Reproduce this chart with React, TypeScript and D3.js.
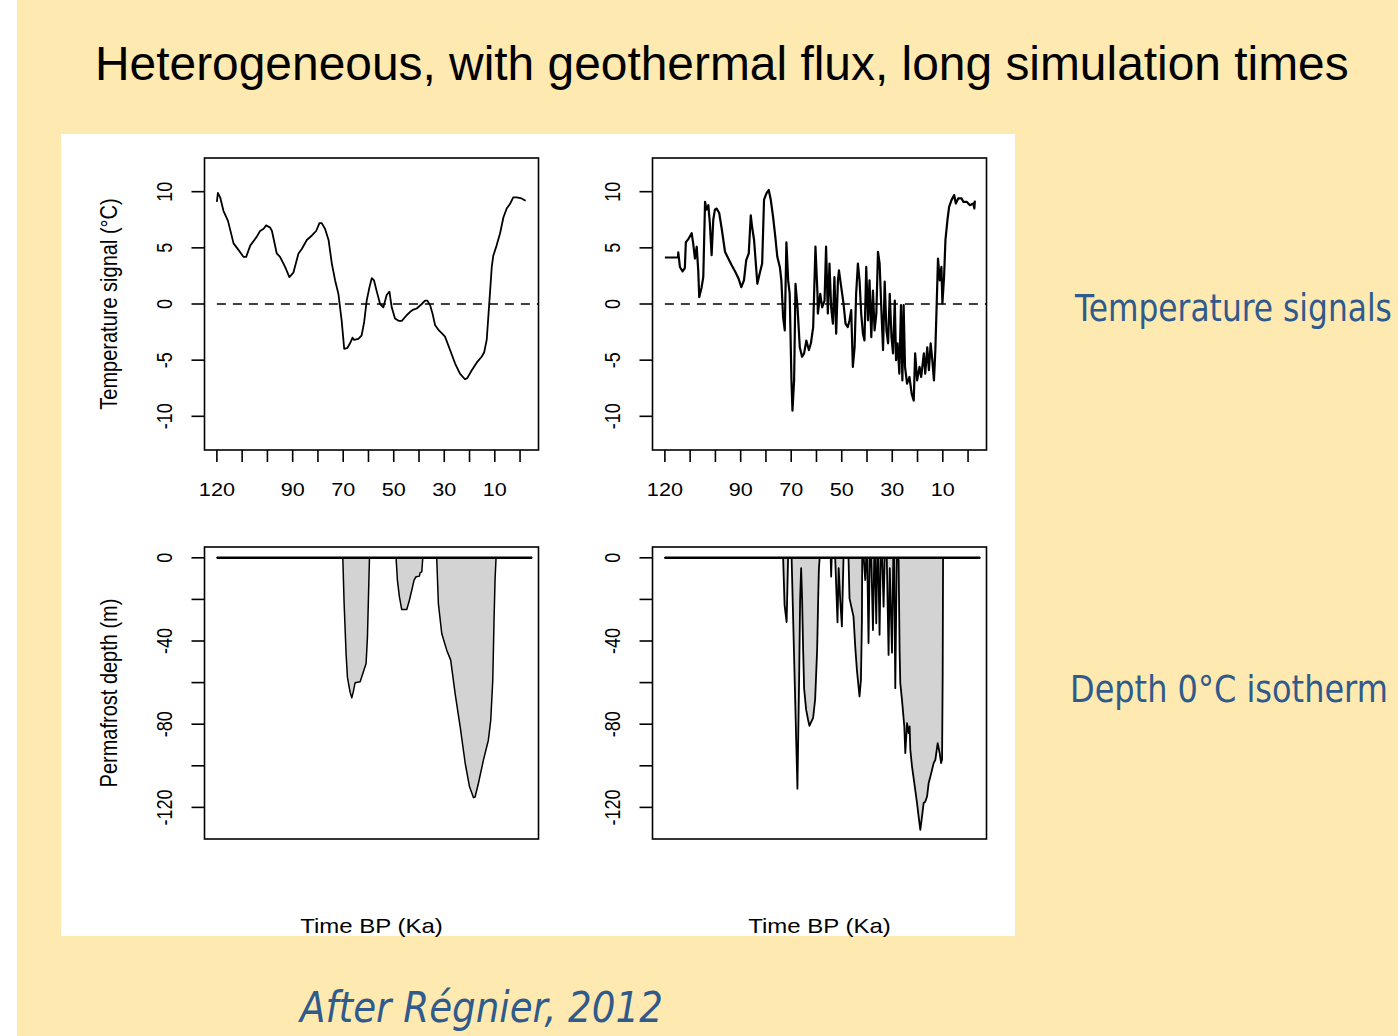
import { useEffect, useRef } from 'react';
import * as d3 from 'd3';

const WIDTH = 1398;
const HEIGHT = 1036;

// axes
const ageTicks = [120, 110, 100, 90, 80, 70, 60, 50, 40, 30, 20, 10, 0];
const ageTickLabels = [120, 90, 70, 50, 30, 10];
const tempTicks = [-10, -5, 0, 5, 10];
const depthTicks = [0, -20, -40, -60, -80, -100, -120];
const depthTickLabels = [0, -40, -80, -120];

// top-left: smoothed temperature signal (°C)
const smoothAge = [
	120, 119.6, 118.7, 117.4, 115.6, 113.4, 111.4, 109.5, 108.4, 106.8, 104.2, 102.9, 101.5, 100.5, 98.9, 98.2,
	96.3, 95.0, 93.0, 91.3, 89.7, 87.7, 86.4, 84.4, 82.4, 80.7, 79.4, 78.5, 77.2, 75.8, 74.5, 73.2, 71.9, 70.6,
	69.6, 68.3, 67.3, 66.3, 65.7, 64.0, 62.7, 61.7, 60.7, 59.6, 58.7, 57.8, 56.7, 55.4, 54.1, 52.8, 51.7, 50.8,
	49.5, 48.1, 46.8, 44.9, 43.5, 42.2, 40.9, 38.9, 37.6, 36.7, 35.6, 34.6, 33.6, 32.3, 31.0, 29.7, 27.7, 25.7,
	23.8, 21.8, 20.9, 19.1, 17.1, 15.2, 14.2, 13.2, 12.3, 11.2, 10.6, 9.3, 7.9, 6.6, 5.3, 4.0, 2.7, 1.3, -0.6, -2.2,
];
const smoothTemp = [
	9.1, 9.9, 9.5, 8.3, 7.4, 5.4, 4.8, 4.2, 4.2, 5.2, 6.0, 6.5, 6.7, 7.0, 6.8, 6.5,
	4.5, 4.2, 3.3, 2.4, 2.8, 4.5, 4.9, 5.7, 6.1, 6.5, 7.2, 7.2, 6.7, 5.7, 3.6, 2.1, 0.9, -1.5,
	-4.0, -3.9, -3.5, -3.0, -3.2, -3.1, -2.8, -1.6, 0.3, 1.5, 2.3, 2.1, 1.1, 0.0, -0.3, 0.8, 1.1, -0.3,
	-1.3, -1.5, -1.5, -1.0, -0.7, -0.5, -0.4, 0.0, 0.3, 0.3, -0.1, -0.9, -1.9, -2.3, -2.6, -2.9, -4.1, -5.3,
	-6.2, -6.7, -6.6, -5.9, -5.2, -4.7, -4.3, -3.2, -0.3, 3.3, 4.3, 5.2, 6.3, 7.7, 8.5, 8.9, 9.5, 9.5, 9.4, 9.2,
];

// top-right: raw temperature signal (°C)
const rawAge = [
	120, 114.8, 114.7, 114.05, 113.0, 112.1, 111.7, 110.8, 109.4, 108.8, 108.1, 107.4, 106.8, 106.4, 105.45, 104.8,
	104.1, 103.5, 102.8, 102.2, 101.5, 100.85, 100.2, 99.5, 98.5, 97.5, 96.2, 94.9, 93.55, 92.2, 90.9, 89.75, 88.7,
	87.8, 86.8, 86.0, 85.5, 84.7, 84.2, 83.4, 82.5, 81.5, 80.75, 79.8, 78.9, 78.1, 77.2, 76.3, 75.5, 74.5, 73.9,
	73.2, 72.55, 71.9, 71.2, 70.6, 69.9, 69.5, 68.85, 68.3, 67.5, 66.6, 65.7, 64.9, 64.0, 63.0, 62.2, 61.3, 60.4,
	59.6, 59.45, 58.5, 57.75, 56.8, 56.2, 55.5, 54.85, 54.2, 53.5, 52.9, 52.2, 51.5, 51.1, 50.2, 49.3, 48.5, 47.6,
	46.9, 46.25, 45.6, 44.9, 44.3, 43.6, 42.95, 42.3, 41.6, 41.0, 40.3, 39.6, 39.0, 38.3, 37.65, 37.0, 36.3, 35.65,
	35.0, 34.35, 33.65, 33.0, 32.3, 31.65, 31.0, 30.3, 29.7, 29.0, 28.5, 27.9, 27.2, 26.55, 26.0, 25.5, 24.95,
	24.15, 23.2, 22.3, 21.5, 20.95, 20.15, 19.2, 18.55, 17.5, 16.95, 16.15, 15.5, 14.8, 14.15, 13.5, 12.95, 12.45,
	11.9, 11.2, 10.55, 10.15, 9.5, 8.95, 8.15, 7.5, 6.55, 5.5, 4.85, 3.9, 2.55, 1.9, 0.55, -0.75, -2.1, -2.5, -2.7,
];
const rawTemp = [
	4.14, 4.14, 4.6, 3.3, 2.9, 3.2, 5.5, 5.75, 6.3, 5.4, 4.05, 5.1, 3.0, 0.6, 1.5, 2.4,
	9.1, 8.4, 8.8, 7.2, 4.35, 7.5, 8.4, 8.5, 8.1, 6.7, 4.65, 4.05, 3.45, 2.9, 2.3, 1.5, 2.1,
	3.9, 4.5, 7.9, 6.9, 5.7, 4.2, 1.8, 2.7, 3.6, 9.3, 9.85, 10.15, 9.3, 7.8, 6.0, 4.2, 3.3, 2.1,
	-1.2, -2.35, 5.5, 2.1, 0.9, -6.8, -9.5, -6.8, 1.8, -0.3, -3.85, -4.7, -4.4, -3.25, -4.1, -3.5, -2.05, 5.1,
	0.9, -0.85, 0.9, -0.3, 0.3, 5.1, -0.85, 3.6, -0.3, -1.75, 2.4, -2.65, 2.1, 3.0, 1.5, 0.05, -1.75, -2.05,
	-1.45, -0.55, -5.6, -3.85, 0.9, 3.6, 2.1, -0.85, -2.65, -3.25, 3.3, -1.45, 2.1, -2.95, 1.2, -2.35, -0.85, 4.65,
	3.6, -0.3, -4.1, 2.0, -2.35, -3.5, 0.9, -2.95, -4.4, 0.3, -5.0, -3.5, -6.2, -0.1, -6.8, -0.1, -5.6,
	-7.1, -6.5, -8.0, -8.6, -4.4, -6.8, -5.6, -6.5, -4.4, -6.2, -3.85, -5.9, -3.5, -5.0, -6.8, -4.1, -0.3,
	4.05, 2.1, 3.3, 0.05, 2.4, 5.7, 7.5, 8.65, 9.25, 9.7, 8.95, 9.4, 9.4, 9.1, 9.1, 8.8, 8.95, 8.5, 9.2,
];

// bottom-left: permafrost depth (m), smoothed signal
const smoothDepthAge = [
	120, 70.16, 69.64, 68.85, 68.32, 67.26, 66.6, 65.95, 65.3, 63.3, 62.65, 62.0, 60.94, 60.4, 60.0, 59.6,
	49.07, 48.55, 47.75, 46.83, 44.85, 43.8, 42.87, 41.95, 41.16, 39.84, 39.58, 38.9, 38.66, 38.5,
	32.99, 32.33, 31.0, 29.03, 27.45, 25.7, 23.7, 21.7, 20.0, 18.45, 17.8, 16.5, 14.5, 12.55, 11.6, 10.8, 10.3,
	9.9, 9.5, -4.7,
];
const smoothDepth = [
	0, 0, -22, -46.3, -57.5, -64.7, -67.3, -64.1, -60.1, -59.6, -57.2, -54.8, -50.8, -38.0, -18.8, 0,
	0, -10.7, -18.8, -24.9, -24.9, -20.4, -15.6, -10.7, -9.1, -8.8, -7.2, -6.7, -2.7, 0,
	0, -22.0, -36.4, -44.4, -49.2, -65.3, -81.3, -98.9, -110.1, -115.3, -115.0, -108.5, -97.3, -87.7, -78.1, -58.8, -30.0,
	-10.7, 0, 0,
];

// bottom-right: permafrost depth (m), raw signal
const rawDepthAge = [
	120, 73.2, 72.62, 71.82, 71.43, 71.23, 69.84, 67.54, 66.87, 66.47, 66.07, 65.68, 65.28, 64.88, 64.09, 63.3,
	62.78, 62.11, 61.32, 60.52, 59.73, 59.33, 59.06, 58.74, 54.38, 54.18, 53.98, 52.59, 51.68, 51.21, 50.61, 49.94,
	49.3, 47.32, 46.92, 45.34, 44.66, 43.99, 42.96, 42.4, 42.01, 41.89, 41.29, 40.7, 40.3, 39.9, 39.4, 38.9, 38.3,
	37.65, 37.13, 36.81, 36.34, 35.94, 35.54, 35.03, 34.55, 33.96, 33.44, 32.97, 32.17, 31.46, 30.98, 30.11, 29.6,
	29.28, 28.8, 28.21, 27.81, 27.49, 27.1, 26.82, 26.15, 25.23, 24.84, 24.16, 23.53, 23.13, 22.85, 22.18, 21.27,
	20.2, 19.56, 18.89, 18.22, 17.58, 16.91, 16.23, 15.6, 14.92, 14.25, 13.62, 12.94, 12.03, 11.24, 10.68, 10.29,
	10.05, 9.89, -4.7,
];
const rawDepth = [
	0, 0, -22.7, -30.9, -10.7, 0, 0, -111, -58.9, -20, -5, -20, -44, -63, -73, -78,
	-80.8, -79, -77, -68, -44, -20, -6, 0, 0, -9, 0, 0, -31, -5, -20, -33,
	0, 0, -19.5, -28.3, -42.7, -54, -66.7, -58.7, -30, 0, 0, -10.7, 0, 0, -41, 0, 0,
	-34.7, 0, 0, -31.5, 0, 0, -37, 0, 0, -23.5, 0, 0, -46.7, -5, -45.6, 0,
	0, -62.7, 0, 0, -1.1, -44.3, -60.3, -68.3, -81.1, -93.9, -79.5, -84.3, -81.1, -92.3, -100.4, -108.3,
	-117.9, -124.4, -130.8, -124.4, -117.9, -117.2, -114.8, -108.3, -105.2, -101.9, -98.7, -97.1, -89.1, -93.9, -98.7, -97.1,
	-57, 0, 0,
];

const FONT = "'Liberation Sans', Arial, Helvetica, sans-serif";
const NOTE_FONT = "'DejaVu Sans', Verdana, sans-serif";
const NOTE_COLOR = '#2f5a8b';
const SX = 1.2; // the R figure is stretched horizontally on the slide

type Panel = {
	left: number;
	top: number;
	kind: 'temp' | 'depth';
	ages: number[];
	values: number[];
	yTitle?: string;
	xTitle?: string;
	lineWidth: number;
};

export default function App() {
	const svgRef = useRef<SVGSVGElement | null>(null);

	useEffect(() => {
		if (!svgRef.current) return;
		const svg = d3.select(svgRef.current);
		svg.selectAll('*').remove();

		// slide background
		svg.append('rect').attr('width', WIDTH).attr('height', HEIGHT).attr('fill', '#ffffff');
		svg.append('rect').attr('x', 17).attr('width', WIDTH - 17).attr('height', HEIGHT).attr('fill', '#fee9b0');

		// squeeze a text horizontally so it spans the given width
		const fitText = (
			txt: string,
			x: number,
			y: number,
			width: number,
			size: number,
			family: string,
			color: string,
			italic = false,
		) => {
			const t = svg
				.append('text')
				.attr('font-family', family)
				.attr('font-size', size)
				.attr('font-style', italic ? 'italic' : 'normal')
				.attr('fill', color)
				.text(txt);
			const natural = (t.node() as SVGTextElement).getComputedTextLength() || width;
			t.attr('transform', `translate(${x},${y}) scale(${width / natural},1)`);
		};

		fitText('Heterogeneous, with geothermal flux, long simulation times', 95, 80, 1254, 48, FONT, '#000');

		// white figure panel
		svg.append('rect').attr('x', 61).attr('y', 134).attr('width', 954).attr('height', 802).attr('fill', '#ffffff');

		const boxW = 334;
		const boxH = 292;

		const panels: Panel[] = [
			{ left: 204.5, top: 158, kind: 'temp', ages: smoothAge, values: smoothTemp, yTitle: 'Temperature signal (°C)', lineWidth: 1.8 },
			{ left: 652.5, top: 158, kind: 'temp', ages: rawAge, values: rawTemp, lineWidth: 2.2 },
			{ left: 204.5, top: 547, kind: 'depth', ages: smoothDepthAge, values: smoothDepth, yTitle: 'Permafrost depth (m)', xTitle: 'Time BP (Ka)', lineWidth: 1.5 },
			{ left: 652.5, top: 547, kind: 'depth', ages: rawDepthAge, values: rawDepth, xTitle: 'Time BP (Ka)', lineWidth: 1.8 },
		];

		panels.forEach((p) => {
			const g = svg.append('g');
			const x = d3.scaleLinear().domain([124.9, -7.3]).range([p.left, p.left + boxW]);
			const y =
				p.kind === 'temp'
					? d3.scaleLinear().domain([-13, 13]).range([p.top + boxH, p.top])
					: d3.scaleLinear().domain([-135.2, 5.2]).range([p.top + boxH, p.top]);
			const data = p.ages.map((a, i) => ({ age: a, v: p.values[i] }));

			if (p.kind === 'temp') {
				g.append('line')
					.attr('x1', x(120))
					.attr('x2', p.left + boxW)
					.attr('y1', y(0))
					.attr('y2', y(0))
					.attr('stroke', '#000')
					.attr('stroke-width', 1.4)
					.attr('stroke-dasharray', '9,7');

				const line = d3
					.line<{ age: number; v: number }>()
					.x((d) => x(d.age))
					.y((d) => y(d.v));
				g.append('path')
					.attr('d', line(data))
					.attr('fill', 'none')
					.attr('stroke', '#000')
					.attr('stroke-width', p.lineWidth)
					.attr('stroke-linejoin', 'round');

				// x ticks under the box
				g.selectAll('.xt')
					.data(ageTicks)
					.join('line')
					.attr('x1', (d) => x(d))
					.attr('x2', (d) => x(d))
					.attr('y1', p.top + boxH)
					.attr('y2', p.top + boxH + 12)
					.attr('stroke', '#000')
					.attr('stroke-width', 1.6);
				g.selectAll('.xl')
					.data(ageTickLabels)
					.join('text')
					.attr('transform', (d) => `translate(${x(d)},${p.top + boxH + 46}) scale(${SX},1)`)
					.attr('text-anchor', 'middle')
					.attr('font-family', FONT)
					.attr('font-size', 18)
					.text((d) => String(d));
			} else {
				const area = d3
					.area<{ age: number; v: number }>()
					.x((d) => x(d.age))
					.y0(y(0))
					.y1((d) => y(d.v));
				g.append('path')
					.attr('d', area(data))
					.attr('fill', '#d3d3d3')
					.attr('stroke', '#000')
					.attr('stroke-width', p.lineWidth)
					.attr('stroke-linejoin', 'round');
				g.append('line')
					.attr('x1', x(120))
					.attr('x2', x(-4.7))
					.attr('y1', y(0))
					.attr('y2', y(0))
					.attr('stroke', '#000')
					.attr('stroke-width', 2.6);
			}

			// y ticks
			const yTicks = p.kind === 'temp' ? tempTicks : depthTicks;
			const yLabels = p.kind === 'temp' ? tempTicks : depthTickLabels;
			g.selectAll('.yt')
				.data(yTicks)
				.join('line')
				.attr('x1', p.left - 13)
				.attr('x2', p.left)
				.attr('y1', (d) => y(d))
				.attr('y2', (d) => y(d))
				.attr('stroke', '#000')
				.attr('stroke-width', 1.6);
			g.selectAll('.yl')
				.data(yLabels)
				.join('text')
				.attr('transform', (d) => `translate(${p.left - 33},${y(d)}) scale(${SX},1) rotate(-90)`)
				.attr('text-anchor', 'middle')
				.attr('font-family', FONT)
				.attr('font-size', 18)
				.text((d) => String(d));

			// box
			g.append('rect')
				.attr('x', p.left)
				.attr('y', p.top)
				.attr('width', boxW)
				.attr('height', boxH)
				.attr('fill', 'none')
				.attr('stroke', '#000')
				.attr('stroke-width', 1.6);

			if (p.yTitle) {
				g.append('text')
					.attr('transform', `translate(${p.left - 88},${p.top + boxH / 2}) scale(${SX},1) rotate(-90)`)
					.attr('text-anchor', 'middle')
					.attr('font-family', FONT)
					.attr('font-size', 20)
					.text(p.yTitle);
			}
			if (p.xTitle) {
				g.append('text')
					.attr('transform', `translate(${p.left + boxW / 2},933) scale(${SX},1)`)
					.attr('text-anchor', 'middle')
					.attr('font-family', FONT)
					.attr('font-size', 20)
					.text(p.xTitle);
			}
		});

		// side notes
		fitText('Temperature signals', 1075, 321, 317, 37, NOTE_FONT, NOTE_COLOR);
		fitText('Depth 0°C isotherm', 1070, 702, 318, 37, NOTE_FONT, NOTE_COLOR);
		fitText('After Régnier, 2012', 300, 1022, 363, 42, NOTE_FONT, NOTE_COLOR, true);
	}, []);

	return (
		<div style={{ position: 'absolute', left: 0, top: 0 }}>
			<svg ref={svgRef} width={WIDTH} height={HEIGHT} style={{ display: 'block' }} />
		</div>
	);
}
